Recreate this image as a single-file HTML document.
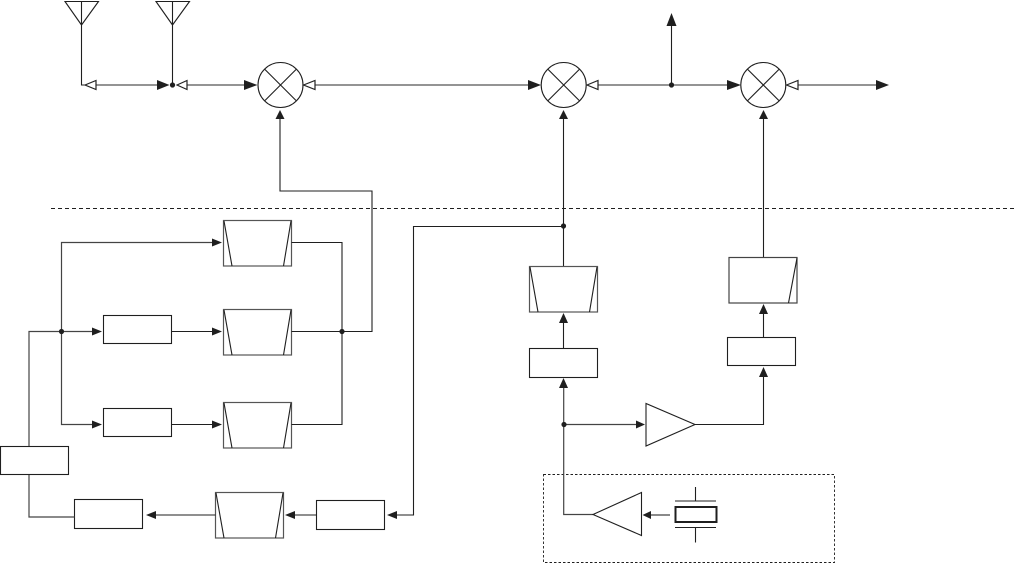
<!DOCTYPE html>
<html>
<head>
<meta charset="utf-8">
<style>
html,body{margin:0;padding:0;background:#fff;width:1014px;height:563px;overflow:hidden}
svg{display:block}
</style>
</head>
<body>
<svg width="1014" height="563" viewBox="0 0 1014 563" xmlns="http://www.w3.org/2000/svg">
<g fill="none" stroke="#1f1f1f" stroke-width="1.1">
<!-- dashed lines -->
<path d="M51 208.5H1014" stroke-dasharray="4 3" stroke-width="0.9"/>
<rect x="543.5" y="474.5" width="291" height="88" stroke-dasharray="2.5 2" stroke-width="0.9"/>

<!-- antennas -->
<path d="M65 1.5H98.5L81.5 25ZM81.5 1V85H97"/>
<path d="M156 1.5H189.5L172.5 25ZM172.5 1V85"/>
<path d="M96 85H158M187 85H245" stroke="#555" stroke-width="1.3"/>

<!-- mixers -->
<circle cx="280.5" cy="85" r="22.5"/>
<path d="M264.6 69.1L296.4 100.9M296.4 69.1L264.6 100.9"/>
<circle cx="563.7" cy="85" r="22.5"/>
<path d="M547.8 69.1L579.6 100.9M579.6 69.1L547.8 100.9"/>
<circle cx="763.3" cy="85" r="22.5"/>
<path d="M747.4 69.1L779.2 100.9M779.2 69.1L747.4 100.9"/>

<!-- top line -->
<path d="M315 85H530M598 85H729M798 85H878" stroke="#555" stroke-width="1.3"/>
<path d="M671.5 85V24"/>

<!-- feeds into mixers -->
<path d="M280 118V191H372V331.5H342"/>
<path d="M563.5 118V266"/>
<path d="M763.5 118V257"/>

<!-- left trapezoids -->
<rect x="223.5" y="220.5" width="68" height="45.5" stroke="#555" stroke-width="1.2"/>
<path d="M224 221L232 266M291 221L283.5 266"/>
<rect x="223.5" y="309.5" width="68" height="45.5" stroke="#555" stroke-width="1.2"/>
<path d="M224 310L232 355M291 310L283.5 355"/>
<rect x="223.5" y="402.5" width="68" height="45.5" stroke="#555" stroke-width="1.2"/>
<path d="M224 403L232 448M291 403L283.5 448"/>
<rect x="215.5" y="492.5" width="68" height="45.5" stroke="#555" stroke-width="1.2"/>
<path d="M216 493L224 538M283 493L275.5 538"/>

<!-- left boxes -->
<rect x="103.5" y="315.5" width="68" height="28"/>
<rect x="103.5" y="408.5" width="68" height="28"/>
<rect x="0.5" y="446.5" width="68" height="28"/>
<rect x="74.5" y="499.5" width="68" height="29"/>
<rect x="316.5" y="500.5" width="68" height="29"/>

<!-- left connectors -->
<path d="M29 446V331.5H94M61.5 331.5V242.5H214M61.5 331.5V424.5H94" stroke="#444" stroke-width="1.2"/>
<path d="M171.5 331.5H214M171.5 424.5H214"/>
<path d="M291.5 242.5H342V424.5H291.5M291.5 331.5H342"/>
<path d="M29 475V517H74.5" stroke="#444" stroke-width="1.2"/>
<path d="M156 515H215.5M294 515H316.5M397 515H413.5V226.5H563.5"/>

<!-- right column -->
<rect x="529.5" y="266.5" width="68" height="45.5" stroke="#555" stroke-width="1.2"/>
<path d="M530 267L538 312M597 267L589.5 312"/>
<rect x="529.5" y="348.5" width="68" height="29"/>
<path d="M563.5 348V322"/>
<path d="M563.7 387V514.5H593" stroke="#444" stroke-width="1.2"/>
<path d="M564 424.5H637" stroke="#444" stroke-width="1.2"/>
<path d="M646 403.5V446L695 424.5Z"/>
<path d="M695 424.5H763.5V377"/>
<rect x="727.5" y="337.5" width="68" height="28"/>
<path d="M763.5 337V313"/>
<rect x="729" y="257.5" width="68" height="45.5" stroke="#444" stroke-width="1.2"/>
<path d="M797 258L788.5 303"/>

<!-- lower amp and crystal -->
<path d="M593 514.5L641.5 492.5V535.5Z"/>
<path d="M650 515H670" stroke="#444" stroke-width="1.2"/>
<rect x="675.5" y="507" width="41" height="15" stroke-width="2"/>
<path d="M675 501H716M675 527.5H716M695.5 487V501M695.5 527.5V542.5"/>
</g>

<!-- open arrowheads -->
<g fill="#fff" stroke="#222" stroke-width="1.2">
<path d="M85 85L96 80.5V89.5Z"/>
<path d="M177 85L187 80.5V89.5Z"/>
<path d="M303.5 85L315 80.5V89.5Z"/>
<path d="M587 85L598 80.5V89.5Z"/>
<path d="M786.5 85L798 80.5V89.5Z"/>
</g>

<!-- filled arrowheads -->
<g fill="#1f1f1f" stroke="none">
<path d="M169.5 85L157 80V90Z"/>
<path d="M257.5 85L244 80V90Z"/>
<path d="M541 85L528 80V90Z"/>
<path d="M741 85L727 80V90Z"/>
<path d="M889 85L876 80V90Z"/>
<path d="M671.5 13L666.5 26H676.5Z"/>
<path d="M280 110L275.5 119H284.5Z"/>
<path d="M563.5 110L559 119H568Z"/>
<path d="M763.5 110L759 119H768Z"/>
<path d="M222 242.5L212 238.5V246.5Z"/>
<path d="M222 331.5L212 327.5V335.5Z"/>
<path d="M222 424.5L212 420.5V428.5Z"/>
<path d="M102 331.5L92 327.5V335.5Z"/>
<path d="M102 424.5L92 420.5V428.5Z"/>
<path d="M146 515L156 511V519Z"/>
<path d="M285 515L295 511V519Z"/>
<path d="M387 515L397 511V519Z"/>
<path d="M563.5 313L559 323H568Z"/>
<path d="M563.5 378L559 388H568Z"/>
<path d="M763.5 304L759 314H768Z"/>
<path d="M763.5 367L759 377H768Z"/>
<path d="M645 424.5L636 420.5V428.5Z"/>
<path d="M642.5 515L651 511V519Z"/>
</g>

<!-- junction dots -->
<g fill="#1f1f1f" stroke="none">
<circle cx="172.5" cy="85" r="2.6"/>
<circle cx="671.5" cy="85" r="2.6"/>
<circle cx="61.5" cy="331.5" r="2.6"/>
<circle cx="342" cy="331.5" r="2.6"/>
<circle cx="563.5" cy="226" r="2.6"/>
<circle cx="564" cy="424.5" r="2.6"/>
</g>
</svg>
</body>
</html>
